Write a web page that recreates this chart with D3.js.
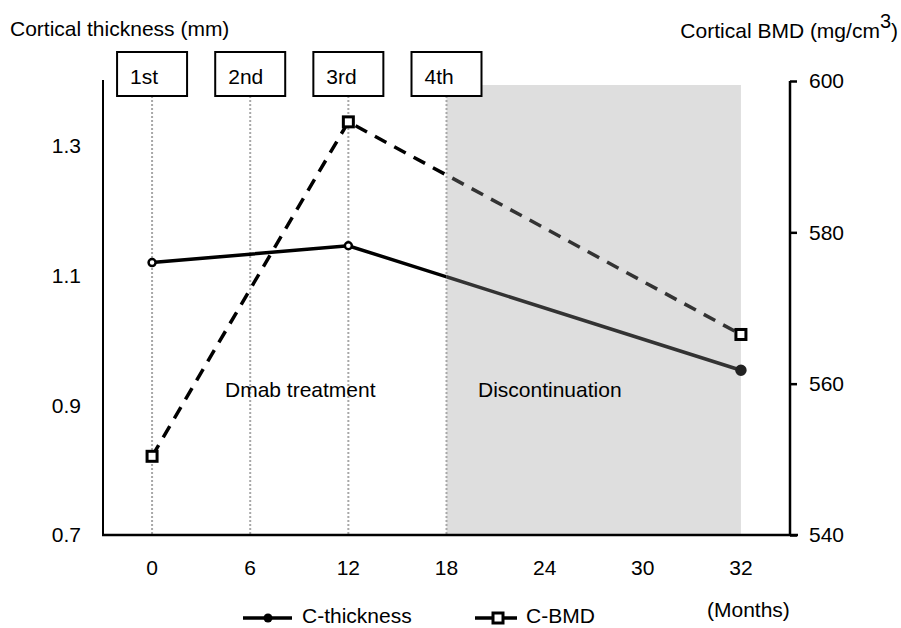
<!DOCTYPE html>
<html>
<head>
<meta charset="utf-8">
<script src="https://cdn.jsdelivr.net/npm/d3@7"></script>
<style>
  body { margin: 0; background: #fff; }
  text { font-family: "Liberation Sans", Arial, sans-serif; fill: #000; }
</style>
</head>
<body>
<svg id="chart" width="901" height="628"></svg>
<script>
// data
var months = ["0", "6", "12", "18", "24", "30", "32"];
var thickness = [{m: "0", v: 1.12}, {m: "12", v: 1.146}, {m: "32", v: 0.954}];
var bmd = [{m: "0", v: 550.4}, {m: "12", v: 594.6}, {m: "32", v: 566.5}];
var leftTicks = [0.7, 0.9, 1.1, 1.3];
var rightTicks = [540, 560, 580, 600];
var doses = [{m: "0", label: "1st"}, {m: "6", label: "2nd"}, {m: "12", label: "3rd"}, {m: "18", label: "4th"}];
var discontinued = ["18", "32"];

var svg = d3.select("#chart");
var fs = 21;

var x = d3.scaleBand().domain(months).range([103, 790]);
var cx = function(m) { return x(m) + x.bandwidth() / 2; };
var yL = d3.scaleLinear().domain([0.7, 1.4]).range([535, 81]);
var yR = d3.scaleLinear().domain([540, 600]).range([535, 81]);

// shaded discontinuation period
svg.append("rect")
	.attr("x", cx(discontinued[0]))
	.attr("y", 85)
	.attr("width", cx(discontinued[1]) - cx(discontinued[0]))
	.attr("height", 535 - 85)
	.attr("fill", "#dedede");

// dose markers: dotted lines + boxes
var dose = svg.append("g").selectAll(".dose")
	.data(doses)
	.enter().append("g");

dose.append("line")
	.attr("x1", function(d) { return cx(d.m); })
	.attr("x2", function(d) { return cx(d.m); })
	.attr("y1", 96)
	.attr("y2", 535)
	.attr("stroke", "#a8a8a8")
	.attr("stroke-width", 2)
	.attr("stroke-dasharray", "2,2");

dose.append("rect")
	.attr("x", function(d) { return cx(d.m) - 35; })
	.attr("y", 52)
	.attr("width", 70)
	.attr("height", 44)
	.attr("fill", "#fff")
	.attr("stroke", "#000")
	.attr("stroke-width", 2);

dose.append("text")
	.attr("x", function(d) { return cx(d.m) - 22; })
	.attr("y", 84)
	.style("font-size", fs + "px")
	.text(function(d) { return d.label; });

// period labels
svg.append("text").attr("x", 225).attr("y", 397).style("font-size", fs + "px").text("Dmab treatment");
svg.append("text").attr("x", 478).attr("y", 397).style("font-size", fs + "px").text("Discontinuation");

// axes
svg.append("line").attr("x1", 103).attr("x2", 103).attr("y1", 80).attr("y2", 536)
	.attr("stroke", "#000").attr("stroke-width", 2);
svg.append("line").attr("x1", 102).attr("x2", 798).attr("y1", 535).attr("y2", 535)
	.attr("stroke", "#000").attr("stroke-width", 2.5);

var rAxis = svg.append("g")
	.attr("transform", "translate(790,0)")
	.call(d3.axisRight(yR).tickValues(rightTicks).tickSize(7).tickPadding(12));
rAxis.select(".domain").attr("stroke-width", 2.5).attr("d", "M0,81V535");
rAxis.selectAll(".tick line").attr("stroke-width", 2.5);
rAxis.selectAll("text").style("font-size", fs + "px").attr("font-family", null);

svg.append("g").selectAll(".ltick")
	.data(leftTicks)
	.enter().append("text")
	.attr("x", 81)
	.attr("y", function(d) { return yL(d); })
	.attr("dy", "0.35em")
	.attr("text-anchor", "end")
	.style("font-size", fs + "px")
	.text(function(d) { return d3.format(".1f")(d); });

svg.append("g").selectAll(".xtick")
	.data(months)
	.enter().append("text")
	.attr("x", function(d) { return cx(d); })
	.attr("y", 568)
	.attr("dy", "0.35em")
	.attr("text-anchor", "middle")
	.style("font-size", fs + "px")
	.text(function(d) { return d; });

// titles
svg.append("text").attr("x", 10).attr("y", 36).style("font-size", fs + "px").text("Cortical thickness (mm)");
var rt = svg.append("text").attr("x", 898).attr("y", 38).attr("text-anchor", "end").style("font-size", fs + "px");
rt.append("tspan").text("Cortical BMD (mg/cm");
rt.append("tspan").attr("dy", -10).style("font-size", "20px").text("3");
rt.append("tspan").attr("dy", 10).text(")");
svg.append("text").attr("x", 707).attr("y", 617).style("font-size", fs + "px").text("(Months)");

// clip paths: lines are dark grey inside the shaded period
var defs = svg.append("defs");
defs.append("clipPath").attr("id", "clipA").append("rect")
	.attr("x", 0).attr("y", 0).attr("width", cx("18")).attr("height", 628);
defs.append("clipPath").attr("id", "clipB").append("rect")
	.attr("x", cx("18")).attr("y", 0).attr("width", 901).attr("height", 628);

var lineL = d3.line().x(function(d) { return cx(d.m); }).y(function(d) { return yL(d.v); });
var lineR = d3.line().x(function(d) { return cx(d.m); }).y(function(d) { return yR(d.v); });

[["clipA", "#000"], ["clipB", "#333"]].forEach(function(c) {
	var g = svg.append("g").attr("clip-path", "url(#" + c[0] + ")");
	g.append("path")
		.attr("d", lineR(bmd))
		.attr("fill", "none")
		.attr("stroke", c[1])
		.attr("stroke-width", 3.5)
		.attr("stroke-dasharray", "13,9");
	g.append("path")
		.attr("d", lineL(thickness))
		.attr("fill", "none")
		.attr("stroke", c[1])
		.attr("stroke-width", 3.5);
});

svg.append("g").selectAll(".dot")
	.data(thickness)
	.enter().append("circle")
	.attr("cx", function(d) { return cx(d.m); })
	.attr("cy", function(d) { return yL(d.v); })
	.attr("r", function(d) { return d.m === "32" ? 4.5 : 3.5; })
	.attr("fill", function(d) { return d.m === "32" ? "#222" : "#fff"; })
	.attr("stroke", function(d) { return d.m === "32" ? "#222" : "#000"; })
	.attr("stroke-width", 2.5);

svg.append("g").selectAll(".sq")
	.data(bmd)
	.enter().append("rect")
	.attr("x", function(d) { return cx(d.m) - 5; })
	.attr("y", function(d) { return yR(d.v) - 5; })
	.attr("width", 10)
	.attr("height", 10)
	.attr("fill", "#fff")
	.attr("stroke", "#000")
	.attr("stroke-width", 3);

// legend
var leg = svg.append("g");
leg.append("line").attr("x1", 243).attr("x2", 292).attr("y1", 618).attr("y2", 618)
	.attr("stroke", "#000").attr("stroke-width", 3.5);
leg.append("circle").attr("cx", 268).attr("cy", 618).attr("r", 4.5).attr("fill", "#000");
leg.append("text").attr("x", 302).attr("y", 623).style("font-size", fs + "px").text("C-thickness");
leg.append("line").attr("x1", 475).attr("x2", 517).attr("y1", 618).attr("y2", 618)
	.attr("stroke", "#000").attr("stroke-width", 3.5);
leg.append("rect").attr("x", 493).attr("y", 613).attr("width", 10).attr("height", 10)
	.attr("fill", "#fff").attr("stroke", "#000").attr("stroke-width", 3);
leg.append("text").attr("x", 526).attr("y", 623).style("font-size", fs + "px").text("C-BMD");
</script>
</body>
</html>
